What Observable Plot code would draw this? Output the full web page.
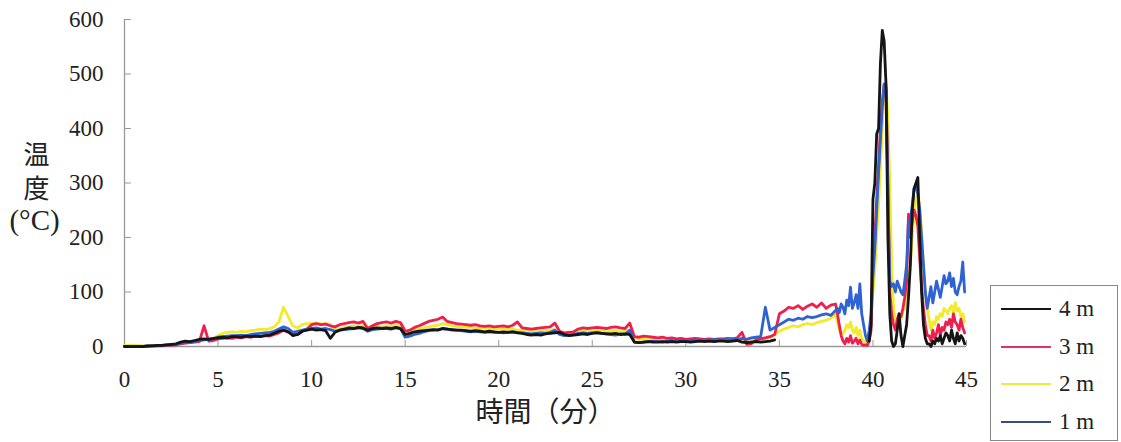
<!DOCTYPE html>
<html><head><meta charset="utf-8">
<script src="https://cdn.jsdelivr.net/npm/d3@7"></script>
<script src="https://cdn.jsdelivr.net/npm/@observablehq/plot@0.6"></script>
<style>
body{margin:0;background:#fff;}
#wrap{position:relative;width:1121px;height:442px;overflow:hidden;}
#legend{position:absolute;left:990px;top:285px;width:128px;height:156px;border:1.5px solid #888;box-sizing:border-box;background:#fff;font-family:"Liberation Serif",serif;font-size:23px;color:#222;}
.item{position:absolute;left:10px;height:26px;width:115px;}
.item .sw{position:absolute;left:0;top:12px;width:50px;height:2px;}
.item .lb{position:absolute;left:58px;top:0;line-height:26px;}
</style></head>
<body><div id="wrap"></div>
<script>
// time in minutes
const time = [
0,0.25,0.5,0.75,1,1.25,1.5,1.75,2,2.25,2.5,2.75,3,3.25,3.5,3.75,4,4.25,4.5,4.75,
5,5.25,5.5,5.75,6,6.25,6.5,6.75,7,7.25,7.5,7.75,8,8.25,8.5,8.75,9,9.25,9.5,9.75,
10,10.25,10.5,10.75,11,11.25,11.5,11.75,12,12.25,12.5,12.75,13,13.25,13.5,13.75,14,14.25,14.5,14.75,
15,15.25,15.5,15.75,16,16.25,16.5,16.75,17,17.25,17.5,17.75,18,18.25,18.5,18.75,19,19.25,19.5,19.75,
20,20.25,20.5,20.75,21,21.25,21.5,21.75,22,22.25,22.5,22.75,23,23.25,23.5,23.75,24,24.25,24.5,24.75,
25,25.25,25.5,25.75,26,26.25,26.5,26.75,27,27.25,27.5,27.75,28,28.25,28.5,28.75,29,29.25,29.5,29.75,
30,30.25,30.5,30.75,31,31.25,31.5,31.75,32,32.25,32.5,32.75,33,33.25,33.5,33.75,34,34.25,34.5,34.75,
35,35.25,35.5,35.75,36,36.25,36.5,36.75,37,37.25,37.5,37.75,
38,38.1,38.2,38.3,38.4,38.5,38.6,38.7,38.8,38.9,
39,39.1,39.2,39.3,39.4,39.5,39.6,39.7,39.8,39.9,
40,40.1,40.2,40.3,40.4,40.5,40.6,40.7,40.8,40.9,
41,41.1,41.2,41.3,41.4,41.5,41.6,41.7,41.8,41.9,
42,42.1,42.2,42.3,42.4,42.5,42.6,42.7,42.8,42.9,
43,43.1,43.2,43.3,43.4,43.5,43.6,43.7,43.8,43.9,
44,44.1,44.2,44.3,44.4,44.5,44.6,44.7,44.8,44.9
];
const N = null;
// 4 m (black)
const t4m = [
0,0,0,0, 0,1,1,2, 2,3,4,5, 8,10,9,11, 13,14,13,15,
16,17,16,18, 18,17,19,18, 19,18,20,21, 24,28,30,27, 20,22,28,30,
32,30,31,29, 15,26,30,32, 34,33,35,34, 30,33,34,33, 34,33,35,33,
22,24,27,28, 29,30,31,30, 33,32,31,30, 30,29,28,29, 28,27,28,27,
26,27,26,27, 25,24,22,21, 22,21,23,24, 25,26,22,20, 21,22,23,22,
24,25,24,23, 23,24,22,23, 22,8,7,8, 9,8,8,9, 8,9,8,9,
9,8,9,10, 9,10,9,10, 10,9,10,11, 8,7,8,9, 8,9,10,12,
N,N,N,N, N,N,N,N, N,N,N,N,
N,N,N,N,N,N,N,N,N,N,
N,N,N,N,N,N,N,N,10,40,
270,300,390,400,520,580,560,480,200,60,
10,0,5,30,60,20,0,20,40,90,
150,250,290,300,310,200,100,40,15,5,
5,0,10,5,15,10,20,5,15,25,
20,10,30,15,5,25,10,20,15,5
];
// 3 m (red)
const t3m = [
0,0,0,0, 0,0,1,1, 1,2,2,3, 5,6,7,8, 9,38,10,11,
14,15,16,15, 17,16,18,17, 19,18,20,19, 22,25,30,26, 24,22,28,32,
40,42,40,41, 38,36,40,42, 44,45,43,46, 33,38,42,44, 45,43,46,44,
28,30,35,38, 42,46,48,50, 54,46,44,42, 41,40,39,40, 38,37,38,36,
37,38,36,39, 45,34,33,32, 33,34,35,36, 43,28,25,26, 27,32,34,33,
34,35,34,33, 35,36,34,33, 43,18,17,19, 18,17,16,17, 15,16,14,15,
13,14,15,14, 13,14,13,14, 14,15,14,16, 26,4,5,12, 14,16,18,22,
60,65,72,70, 75,68,74,78, 72,80,70,76,
78,60,40,20,10,5,15,8,20,6,
10,15,5,12,4,2,3,2,10,30,
150,200,270,330,400,450,480,470,300,100,
60,40,30,50,60,55,70,90,120,243,
200,230,250,240,220,160,110,70,40,20,
20,10,30,15,25,40,20,35,30,45,
40,50,35,60,45,40,30,50,35,25
];
// 2 m (yellow)
const t2m = [
2,2,2,2, 1,1,1,2, 2,3,3,4, 6,7,8,9, 10,12,14,15,
20,24,26,27, 26,28,27,29, 30,32,31,33, 36,45,72,55, 38,34,40,42,
42,43,41,42, 40,30,32,35, 36,38,37,39, 34,35,37,36, 38,37,39,38,
25,27,30,32, 34,36,38,39, 42,40,38,37, 36,35,36,34, 33,34,32,33,
32,33,31,32, 30,29,30,28, 27,28,29,30, 31,27,24,25, 26,27,28,27,
28,29,28,27, 28,29,27,28, 30,14,13,14, 13,12,13,12, 11,12,11,12,
10,11,12,11, 10,11,12,11, 12,11,12,13, 12,11,12,13, 14,15,17,22,
28,32,35,38, 36,40,42,40, 44,46,48,52,
59,45,30,25,23,30,40,35,45,30,
25,35,20,30,15,10,8,6,20,50,
100,140,200,260,330,400,470,480,420,300,
150,70,50,40,60,50,65,70,90,120,
150,200,240,270,280,260,210,150,100,70,
50,30,45,40,55,50,60,55,70,65,
60,70,75,60,80,65,70,55,60,45
];
// 1 m (blue)
const t1m = [
0,0,0,0, 0,1,1,1, 2,3,3,4, 6,7,8,9, 11,12,13,14,
17,18,19,20, 20,21,20,22, 23,24,25,26, 28,32,36,33, 26,28,30,32,
33,34,32,33, 31,28,30,31, 32,33,34,33, 28,31,32,33, 33,32,34,33,
17,19,22,24, 27,29,30,31, 33,32,30,30, 29,28,27,28, 27,26,27,26,
26,25,26,27, 26,25,24,23, 24,25,24,26, 30,22,20,21, 22,24,25,24,
25,26,24,23, 22,21,23,22, 30,8,7,8, 9,10,9,8, 10,11,9,10,
11,10,12,11, 12,11,13,12, 12,13,14,12, 15,13,16,17, 18,72,30,35,
40,45,50,48, 52,50,55,53, 55,58,60,57,
66,70,62,78,72,60,85,75,109,70,
80,95,70,115,60,40,20,10,30,60,
130,180,250,320,380,440,482,475,280,120,
110,115,100,120,110,100,95,120,150,231,
230,260,290,295,280,250,200,150,100,70,
90,110,80,100,120,105,90,110,130,115,
120,135,110,125,100,95,110,120,155,100
];
const seriesNames = ["4 m", "3 m", "2 m", "1 m"];
const xTicks = [0,5,10,15,20,25,30,35,40,45];
const yTicks = [0,100,200,300,400,500,600];
const xLabel = "時間（分）";
const yLabelChars = ["温", "度"];
const yLabelUnit = "(°C)";

const colors = {"4 m":"#151515","3 m":"#ec1f4e","2 m":"#f2ea2a","1 m":"#2f62d2"};
const legendColors = {"4 m":"#151515","3 m":"#e0326a","2 m":"#eeea3a","1 m":"#3a4c84"};
const rows = vals => time.map((t,i)=>({t, v: vals[i]}));
const lineOpts = (k) => ({x:"t", y:"v", stroke: colors[k], strokeWidth: 2.8, strokeLinejoin:"round"});
const cjk = '"Noto Sans CJK JP", sans-serif';
const ctr = {textAnchor:"middle", lineAnchor:"middle", fill:"#222"};

const plot = Plot.plot({
  width:1121, height:442,
  marginLeft:124, marginRight:155, marginTop:19, marginBottom:96,
  x:{domain:[0,45]},
  y:{domain:[0,600]},
  style:{fontFamily:'"Liberation Serif", serif', fontSize:"23px", color:"#222", background:"transparent", overflow:"visible"},
  marks:[
    Plot.ruleY([0],{stroke:"#999", strokeWidth:1.3}),
    Plot.ruleX([0],{stroke:"#999", strokeWidth:1.3}),
    Plot.axisY({ticks:yTicks, tickSize:-7, tickPadding:28, label:null, stroke:"#999", fontSize:23}),
    Plot.axisX({ticks:xTicks, tickSize:-6, tickPadding:30, label:null, stroke:"#999", fontSize:23}),
    Plot.line(rows(t2m), lineOpts("2 m")),
    Plot.line(rows(t3m), lineOpts("3 m")),
    Plot.line(rows(t1m), lineOpts("1 m")),
    Plot.line(rows(t4m), lineOpts("4 m")),
    Plot.text([xLabel], {frameAnchor:"bottom", dy:67, fontSize:28, fontFamily:cjk, ...ctr}),
    Plot.text([yLabelChars[0]], {frameAnchor:"top-left", dx:-88, dy:136, fontSize:26, fontFamily:cjk, ...ctr}),
    Plot.text([yLabelChars[1]], {frameAnchor:"top-left", dx:-88, dy:170, fontSize:26, fontFamily:cjk, ...ctr}),
    Plot.text([yLabelUnit], {frameAnchor:"top-left", dx:-90, dy:201, fontSize:29, fontFamily:'"Liberation Serif", serif', ...ctr})
  ]
});
const wrap = document.getElementById("wrap");
wrap.appendChild(plot);
const lg = document.createElement("div");
lg.id = "legend";
seriesNames.forEach((k,i)=>{
  const it = document.createElement("div");
  it.className = "item";
  it.style.top = (10 + i*37.5) + "px";
  it.innerHTML = `<div class="sw" style="background:${legendColors[k]}"></div><div class="lb">${k}</div>`;
  lg.appendChild(it);
});
wrap.appendChild(lg);
</script>
</body></html>
